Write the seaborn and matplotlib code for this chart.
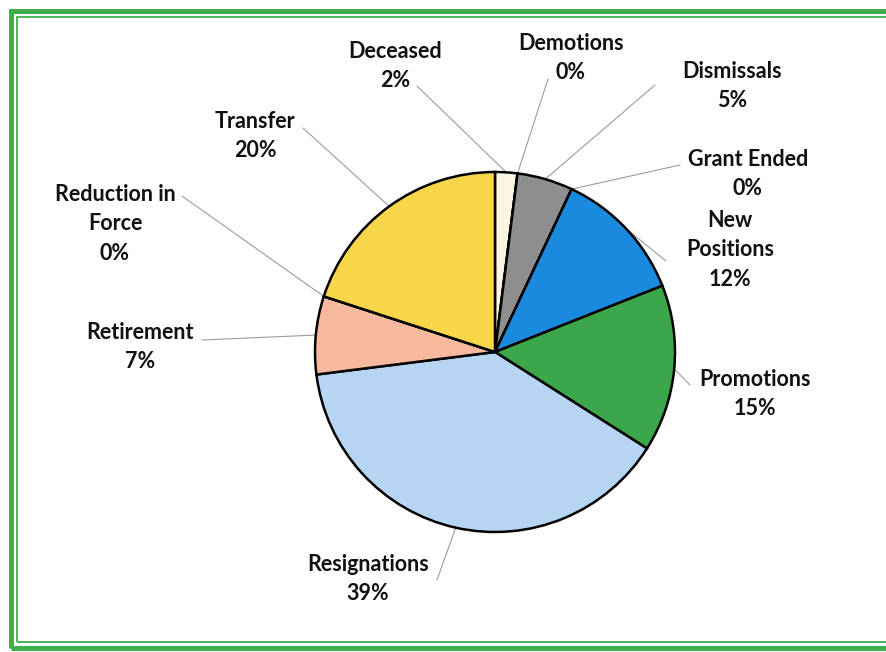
import numpy as np
import seaborn as sns
import matplotlib.pyplot as plt
from matplotlib.patches import Rectangle

# Separation reasons, clockwise from 12 o'clock
reasons = ['Deceased', 'Demotions', 'Dismissals', 'Grant Ended', 'New Positions',
           'Promotions', 'Resignations', 'Retirement', 'Reduction in Force', 'Transfer']
pct = [2, 0, 5, 0, 12, 15, 39, 7, 0, 20]
label_text = ['Deceased', 'Demotions', 'Dismissals', 'Grant Ended', 'New\nPositions',
              'Promotions', 'Resignations', 'Retirement', 'Reduction in\nForce', 'Transfer']
colors = ['#fbf5e2', '#ffffff', '#8e8e8e', '#ffffff', '#1a8ade',
          '#3ca64a', '#b6d5f2', '#f7b99d', '#ffffff', '#f8d64a']

W, H = 886, 652

# label layout (pixel coords, y down): text centre and leader-line end
lab_xy = [(395, 66), (571, 58), (732, 86), (748, 174), (730, 250),
          (755, 394), (368, 579), (140, 347), (115, 224), (255, 136)]
lead_end = [(417, 86), (548, 79), (655, 85), (680, 165), (666, 261),
            (690, 385), (437, 580), (202, 340), (182, 196), (303, 128)]

sns.set_theme(style='white')
plt.rcParams['font.family'] = ['Lato', 'DejaVu Sans']

fig = plt.figure(figsize=(W / 100, H / 100), dpi=100)
ax = fig.add_axes([0, 0, 1, 1])

cx, cy, r = 495, H - 352, 180
wedges, _ = ax.pie(pct, colors=colors, startangle=90, counterclock=False,
                   center=(cx, cy), radius=r, frame=True,
                   wedgeprops=dict(edgecolor='black', linewidth=1.8))
ax.set_xlim(0, W)
ax.set_ylim(0, H)
ax.set_aspect('equal')
ax.axis('off')

for w, name, p, (tx, ty), (lx, ly) in zip(wedges, label_text, pct, lab_xy, lead_end):
    mid = np.deg2rad((w.theta1 + w.theta2) / 2)
    px, py = cx + r * np.cos(mid), cy + r * np.sin(mid)
    ax.plot([px, lx], [py, H - ly], color='#9a9ab0', lw=0.8, zorder=0)
    ax.text(tx, H - ty, f'{name}\n{p}%', ha='center', va='center',
            fontsize=15.5, fontweight='bold', color='#111111', linespacing=1.5)

# green double frame
ax.add_patch(Rectangle((11, H - 648), 900, 637, fill=False,
                       edgecolor='#3fae4c', lw=3.6, clip_on=False))
ax.add_patch(Rectangle((17, H - 642), 900, 625, fill=False,
                       edgecolor='#3fae4c', lw=1.3, clip_on=False))

fig.savefig('out.png', dpi=100)
